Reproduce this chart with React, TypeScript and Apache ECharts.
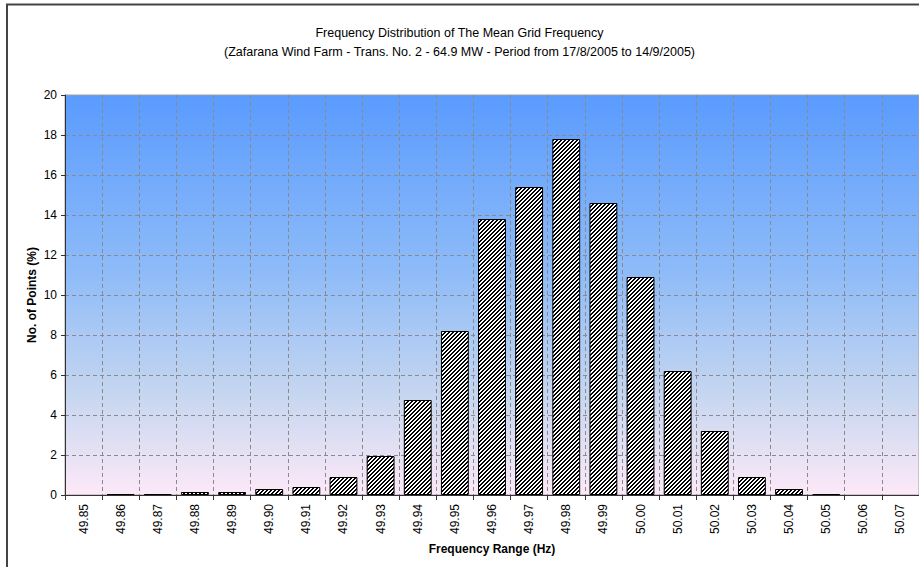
import React, { useEffect, useRef } from "react";
import * as echarts from "echarts";

const categories = [
  "49.85", "49.86", "49.87", "49.88", "49.89", "49.90", "49.91", "49.92",
  "49.93", "49.94", "49.95", "49.96", "49.97", "49.98", "49.99", "50.00",
  "50.01", "50.02", "50.03", "50.04", "50.05", "50.06", "50.07",
];
const pointsPercent = [
  0, 0.05, 0.05, 0.15, 0.15, 0.3, 0.4, 0.9, 1.95, 4.75, 8.2, 13.8, 15.4,
  17.8, 14.6, 10.9, 6.2, 3.2, 0.9, 0.3, 0.05, 0, 0,
];
const titleLines = [
  "Frequency Distribution of The Mean Grid Frequency",
  "(Zafarana Wind Farm - Trans. No. 2 - 64.9 MW - Period from 17/8/2005 to 14/9/2005)",
];
const yAxisName = "No. of Points (%)";
const xAxisName = "Frequency Range (Hz)";

const FONT = "'Liberation Sans', Arial, sans-serif";

function makeHatch(): HTMLCanvasElement {
  const c = document.createElement("canvas");
  c.width = 4;
  c.height = 4;
  const ctx = c.getContext("2d")!;
  ctx.fillStyle = "#ffffff";
  ctx.fillRect(0, 0, 4, 4);
  ctx.fillStyle = "#000000";
  for (let x = 0; x < 4; x++) {
    for (let y = 0; y < 4; y++) {
      if ((x + y) % 4 < 2) ctx.fillRect(x, y, 1, 1);
    }
  }
  return c;
}

export default function App() {
  const ref = useRef<HTMLDivElement>(null);
  useEffect(() => {
    if (!ref.current) return;
    const chart = echarts.init(ref.current, null, { renderer: "svg" });
    const hatch = makeHatch();
    chart.setOption({
      animation: false,
      backgroundColor: "#ffffff",
      title: {
        text: titleLines.join("\n"),
        left: "center",
        top: 18,
        textStyle: {
          fontFamily: FONT,
          fontSize: 12.5,
          fontWeight: "normal",
          color: "#000",
          lineHeight: 19,
        },
      },
      graphic: [
        {
          type: "rect",
          shape: { x: 7, y: 4.5, width: 1000, height: 1000 },
          style: { fill: "none", stroke: "#444", lineWidth: 2 },
          silent: true,
        },
      ],
      grid: {
        left: 65,
        top: 95,
        width: 855,
        height: 400,
        show: true,
        borderColor: "#a0a0a0",
        borderWidth: 1,
        backgroundColor: new echarts.graphic.LinearGradient(0, 0, 0, 1, [
          { offset: 0, color: "#5a9bfe" },
          { offset: 0.45, color: "#8fbcf8" },
          { offset: 0.75, color: "#c6d6f0" },
          { offset: 1, color: "#fde9f8" },
        ]),
      },
      xAxis: {
        type: "category",
        data: categories,
        boundaryGap: true,
        name: xAxisName,
        nameLocation: "middle",
        nameGap: 48,
        nameTextStyle: {
          fontFamily: FONT,
          fontSize: 12,
          fontWeight: "bold",
          color: "#000",
        },
        axisLine: { lineStyle: { color: "#333", width: 1 } },
        axisTick: { show: true, interval: 0, length: 5, lineStyle: { color: "#333" } },
        axisLabel: {
          interval: 0,
          rotate: 90,
          margin: 9,
          fontFamily: FONT,
          fontSize: 12,
          color: "#000",
        },
        splitLine: {
          show: true,
          interval: 0,
          lineStyle: { color: "#8a8a8a", type: [4, 3], width: 1 },
        },
      },
      yAxis: {
        type: "value",
        min: 0,
        max: 20,
        interval: 2,
        name: yAxisName,
        nameLocation: "middle",
        nameGap: 27,
        nameMoveOverlap: false,
        nameTextStyle: {
          fontFamily: FONT,
          fontSize: 12,
          fontWeight: "bold",
          color: "#000",
        },
        axisLine: { show: true, lineStyle: { color: "#333", width: 1 } },
        axisTick: { show: true, length: 4, lineStyle: { color: "#333" } },
        axisLabel: {
          margin: 8,
          fontFamily: FONT,
          fontSize: 12,
          color: "#000",
        },
        splitLine: {
          show: true,
          showMaxLine: false,
          lineStyle: { color: "#8a8a8a", type: [4, 3], width: 1 },
        },
      },
      series: [
        {
          type: "bar",
          data: pointsPercent.map((v) => (v === 0 ? "-" : v)),
          barCategoryGap: "25%",
          itemStyle: {
            color: { image: hatch, repeat: "repeat", imageWidth: 4, imageHeight: 4 },
            borderColor: "#000",
            borderWidth: 1,
          },
        },
      ],
    });
    return () => chart.dispose();
  }, []);
  return (
    <div
      ref={ref}
      style={{ position: "fixed", left: 0, top: 0, width: 919, height: 567 }}
    />
  );
}
